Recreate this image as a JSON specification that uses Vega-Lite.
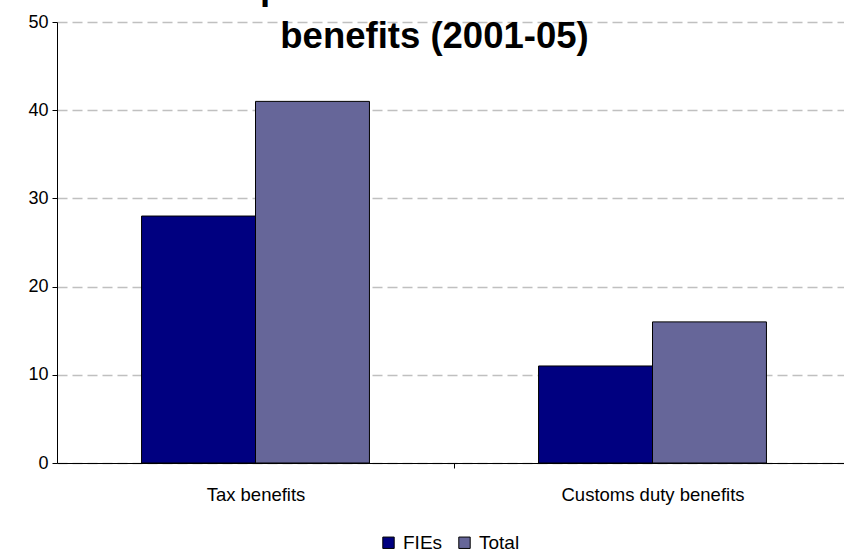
{
  "$schema": "https://vega.github.io/schema/vega-lite/v6.json",
  "autosize": {"type": "none"},
  "width": 787,
  "height": 441,
  "padding": {"left": 57, "top": 22, "right": 0, "bottom": 92},
  "background": "white",
  "title": {
    "text": ["Importance of FIEs in tax", "benefits (2001-05)"],
    "font": "Liberation Sans",
    "fontSize": 36.5,
    "fontWeight": "bold",
    "color": "black",
    "anchor": "middle",
    "frame": "group",
    "baseline": "alphabetic",
    "lineHeight": 49,
    "offset": -71,
    "dx": -16
  },
  "data": {
    "values": [
      {"category": "Tax benefits", "series": "FIEs", "value": 28},
      {"category": "Tax benefits", "series": "Total", "value": 41},
      {"category": "Customs duty benefits", "series": "FIEs", "value": 11},
      {"category": "Customs duty benefits", "series": "Total", "value": 16}
    ]
  },
  "mark": {"type": "bar", "stroke": "black", "strokeWidth": 1, "opacity": 1},
  "encoding": {
    "x": {
      "field": "category",
      "type": "nominal",
      "sort": ["Tax benefits", "Customs duty benefits"],
      "scale": {"range": [0, 794], "paddingInner": 0.426, "paddingOuter": 0.213},
      "axis": {
        "title": null,
        "labelAngle": 0,
        "labelFont": "Liberation Sans",
        "labelFontSize": 18.5,
        "labelColor": "black",
        "labelPadding": 17,
        "labelBaseline": "top",
        "labelLimit": 400,
        "labelOverlap": false,
        "domainColor": "black",
        "domainWidth": 1,
        "tickColor": "black",
        "tickSize": 5,
        "tickOffset": 198.5,
        "labelOffset": -198.5,
        "grid": false
      }
    },
    "xOffset": {"field": "series", "type": "nominal", "sort": ["FIEs", "Total"], "scale": {"paddingInner": 0, "paddingOuter": 0}},
    "y": {
      "field": "value",
      "type": "quantitative",
      "scale": {"domain": [0, 50], "nice": false},
      "axis": {
        "title": null,
        "values": [0, 10, 20, 30, 40, 50],
        "labelFont": "Liberation Sans",
        "labelFontSize": 18,
        "labelColor": "black",
        "labelPadding": 4,
        "domainColor": "black",
        "domainWidth": 1,
        "tickColor": "black",
        "tickSize": 5,
        "grid": true,
        "gridColor": "#c0c0c0",
        "gridDash": [10, 5],
        "gridWidth": 1.3
      }
    },
    "color": {
      "field": "series",
      "type": "nominal",
      "sort": ["FIEs", "Total"],
      "scale": {"domain": ["FIEs", "Total"], "range": ["#000080", "#666699"]},
      "legend": {
        "title": null,
        "orient": "none",
        "direction": "horizontal",
        "legendX": 322,
        "legendY": 511,
        "symbolType": "square",
        "symbolSize": 130,
        "symbolStrokeColor": "black",
        "symbolStrokeWidth": 1,
        "symbolOpacity": 1,
        "labelFont": "Liberation Sans",
        "labelFontSize": 19,
        "labelColor": "black",
        "labelOffset": 5,
        "columnPadding": 12
      }
    }
  },
  "config": {"view": {"stroke": null}}
}
